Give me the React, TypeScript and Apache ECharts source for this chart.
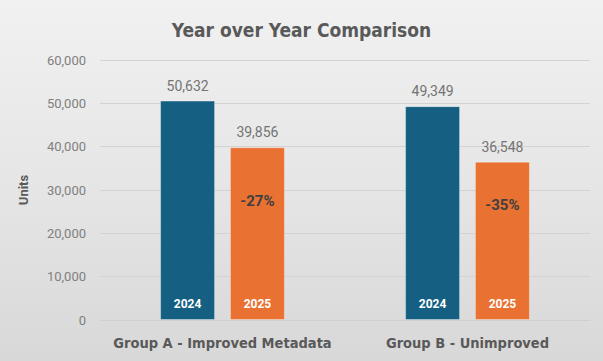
import React, { useEffect, useRef } from "react";
import * as echarts from "echarts";

const categories = ["Group A - Improved Metadata", "Group B - Unimproved"];
const values2024 = [50632, 49349];
const values2025 = [39856, 36548];
const pctLabels = ["-27%", "-35%"];
const yearNames = ["2024", "2025"];
const yTicks = { min: 0, max: 60000, interval: 10000 };

const fmt = (v: number) => v.toLocaleString("en-US");

export default function App() {
  const ref = useRef<HTMLDivElement>(null);
  useEffect(() => {
    document.body.style.margin = "0";
    const chart = echarts.init(ref.current!, null, { renderer: "svg" });
    const narrow = "'Liberation Sans Narrow', 'DejaVu Sans Condensed', Roboto, sans-serif";
    const base = "Roboto, 'Open Sans', sans-serif";
    const zeros = values2024.map(() => 0);
    chart.setOption({
      animation: false,
      backgroundColor: "transparent",
      title: {
        text: "Year over Year Comparison",
        left: "center",
        top: 15,
        textStyle: { fontFamily: narrow, fontSize: 19, fontWeight: "bold", color: "#595959" },
      },
      grid: { left: 100, right: 13, top: 60, bottom: 41 },
      xAxis: {
        type: "category",
        data: categories,
        axisTick: { show: false },
        axisLine: { lineStyle: { color: "#d0d0d0" } },
        axisLabel: { interval: 0, margin: 15, fontFamily: narrow, fontSize: 14.5, fontWeight: "bold", color: "#595959" },
      },
      yAxis: {
        type: "value",
        min: yTicks.min,
        max: yTicks.max,
        interval: yTicks.interval,
        name: "Units",
        nameLocation: "middle",
        nameGap: 70,
        nameTextStyle: { fontFamily: base, fontSize: 13, fontWeight: "bold", color: "#595959" },
        axisLabel: { margin: 14, fontFamily: base, fontSize: 13, color: "#808080", formatter: (v: number) => fmt(v) },
        splitLine: { lineStyle: { color: "#d3d3d3" } },
      },
      series: [
        {
          name: yearNames[0],
          type: "bar",
          stack: "y2024",
          data: values2024,
          barWidth: 55,
          barGap: "27%",
          itemStyle: { color: "#156082", borderColor: "rgba(255,255,255,0.35)", borderWidth: 1 },
          label: {
            show: true,
            position: "insideBottom",
            distance: 10,
            formatter: () => yearNames[0],
            fontFamily: base,
            fontSize: 12,
            fontWeight: "bold",
            color: "#ffffff",
          },
        },
        {
          name: "v2024",
          type: "bar",
          stack: "y2024",
          data: zeros,
          barWidth: 55,
          itemStyle: { color: "transparent" },
          label: {
            show: true,
            position: "top",
            distance: 8,
            formatter: (p: any) => fmt(values2024[p.dataIndex]),
            fontFamily: base,
            fontSize: 14,
            color: "#747474",
          },
        },
        {
          name: yearNames[1],
          type: "bar",
          stack: "y2025",
          data: values2025,
          barWidth: 55,
          itemStyle: { color: "#E97132", borderColor: "rgba(255,255,255,0.35)", borderWidth: 1 },
          label: {
            show: true,
            position: "insideBottom",
            distance: 10,
            formatter: () => yearNames[1],
            fontFamily: base,
            fontSize: 12,
            fontWeight: "bold",
            color: "#ffffff",
          },
        },
        {
          name: "v2025",
          type: "bar",
          stack: "y2025",
          data: zeros,
          barWidth: 55,
          itemStyle: { color: "transparent" },
          label: {
            show: true,
            position: "top",
            distance: 8,
            formatter: (p: any) => fmt(values2025[p.dataIndex]),
            fontFamily: base,
            fontSize: 14,
            color: "#747474",
          },
        },
        {
          name: "pct",
          type: "bar",
          stack: "y2025",
          data: zeros.map((z, i) => ({
            value: z,
            label: { distance: i === 0 ? 46 : 36 },
          })),
          barWidth: 55,
          itemStyle: { color: "transparent" },
          label: {
            show: true,
            position: "insideTop",
            formatter: (p: any) => pctLabels[p.dataIndex],
            fontFamily: base,
            fontSize: 15,
            fontWeight: "bold",
            color: "#404040",
          },
        },
      ],
    });
    return () => chart.dispose();
  }, []);
  return (
    <div
      style={{
        position: "fixed",
        left: 0,
        top: 0,
        width: 603,
        height: 361,
        background: "linear-gradient(180deg, #f1f1f1 0%, #e6e6e6 50%, #d8d8d8 100%)",
      }}
    >
      <div ref={ref} style={{ width: 603, height: 361 }} />
    </div>
  );
}
